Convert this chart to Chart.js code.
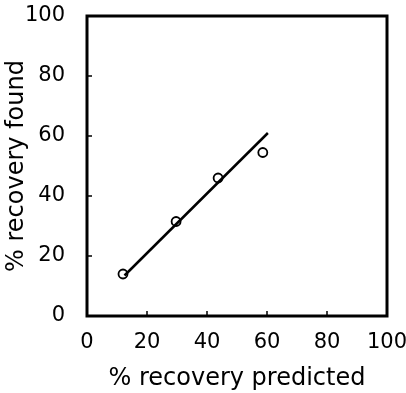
<!DOCTYPE html>
<html>
<head>
<meta charset="utf-8">
<script src="https://cdn.jsdelivr.net/npm/chart.js@4"></script>
<style>
  html, body { margin: 0; padding: 0; background: #fff; }
  #wrap { width: 406px; height: 393px; }
</style>
</head>
<body>
<div id="wrap"><canvas id="graph" width="406" height="393"></canvas></div>
<script>
var predicted = [12, 29.7, 43.7, 58.6];
var found = [14, 31.5, 46, 54.5];
var fitX = [12.5, 60.3];
var fitY = [13.5, 61];
var tickValues = [0, 20, 40, 60, 80, 100];

function toPoints(xs, ys) {
  return xs.map(function(v, i) { return { x: v, y: ys[i] }; });
}

// frame around the plot + short inward ticks
var framePlugin = {
  id: 'frame',
  afterDraw: function(chart) {
    var ctx = chart.ctx;
    var a = chart.chartArea;
    var xs = chart.scales.x, ys = chart.scales.y;
    ctx.save();
    ctx.strokeStyle = '#000';
    ctx.lineWidth = 3;
    ctx.strokeRect(a.left, a.top, a.right - a.left, a.bottom - a.top);
    ctx.lineWidth = 1.5;
    ctx.beginPath();
    tickValues.forEach(function(v) {
      var px = xs.getPixelForValue(v);
      ctx.moveTo(px, a.bottom); ctx.lineTo(px, a.bottom - 5);
      var py = ys.getPixelForValue(v);
      ctx.moveTo(a.left, py); ctx.lineTo(a.left + 5, py);
    });
    ctx.stroke();
    ctx.restore();
  }
};

function noOverflow(s) {
  s.paddingTop = 0; s.paddingBottom = 0; s.paddingLeft = 0; s.paddingRight = 0;
}

var tickFont = { family: 'DejaVu Sans', size: 21 };
var titleFont = { family: 'DejaVu Sans', size: 24 };

new Chart(document.getElementById('graph').getContext('2d'), {
  type: 'scatter',
  data: {
    datasets: [{
      data: toPoints(fitX, fitY),
      showLine: true,
      borderColor: '#000',
      borderWidth: 2.5,
      pointRadius: 0
    }, {
      data: toPoints(predicted, found),
      pointRadius: 4.5,
      pointBorderWidth: 1.8,
      pointBorderColor: '#000',
      pointBackgroundColor: '#fff'
    }, {
      data: toPoints(predicted, found),
      pointRadius: 1.2,
      pointBorderWidth: 0,
      pointBackgroundColor: '#000'
    }]
  },
  options: {
    responsive: false,
    animation: false,
    layout: { padding: { top: 16, right: 19, left: 0, bottom: 0 } },
    plugins: { legend: { display: false }, tooltip: { enabled: false } },
    scales: {
      x: {
        type: 'linear', min: 0, max: 100,
        grid: { display: false },
        border: { display: false },
        ticks: { stepSize: 20, color: '#000', font: tickFont, padding: 6, maxRotation: 0 },
        title: { display: true, text: '% recovery predicted', color: '#000', font: titleFont, padding: { top: 0, bottom: 0 } },
        afterFit: function(s) { s.height = 77; noOverflow(s); }
      },
      y: {
        type: 'linear', min: 0, max: 100,
        grid: { display: false },
        border: { display: false },
        ticks: { stepSize: 20, color: '#000', font: tickFont, padding: 14 },
        title: { display: true, text: '% recovery found', color: '#000', font: titleFont, padding: { top: 2, bottom: 0 } },
        afterFit: function(s) { s.width = 87; noOverflow(s); }
      }
    }
  },
  plugins: [framePlugin]
});
</script>
</body>
</html>
